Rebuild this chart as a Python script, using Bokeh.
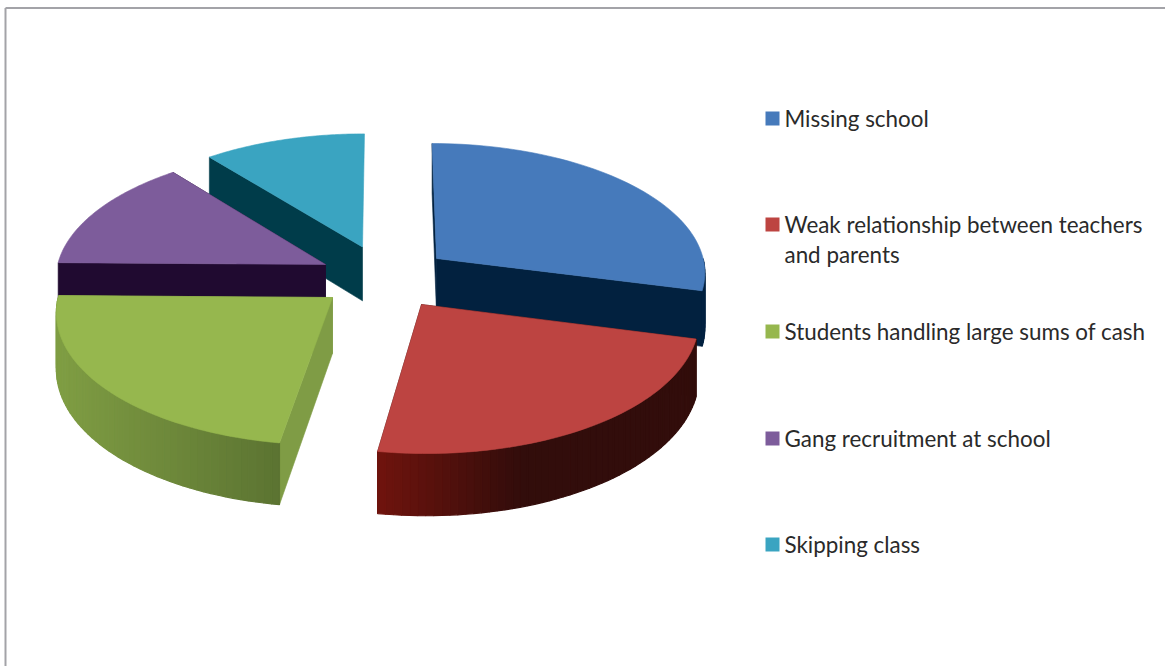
import math
from bokeh.plotting import figure
from bokeh.embed import file_html
from bokeh.resources import INLINE
from bokeh.core.properties import value

# --- data (share of responses, %) ---
categories = ["Missing school", "Weak relationship between teachers\nand parents",
              "Students handling large sums of cash", "Gang recruitment at school", "Skipping class"]
values = [29, 23.5, 22.7, 14, 10.8]

# --- style / layout ---
top_colors = ["#467ABB", "#BD4441", "#96B74E", "#7D5C9B", "#3AA4C1"]
wall_colors = ["#02213F", "#3A0E0C", "#7F9C45", "#200A30", "#003C4A"]
rim_left = [(2, 33, 64), (112, 20, 14), (128, 158, 68), (32, 10, 48), (0, 60, 74)]
rim_right = [(2, 33, 64), (50, 13, 11), (92, 116, 50), (32, 10, 48), (0, 60, 74)]
show_end_wall = [True, True, True, True, False]
start_angle = 0.1
tips = [(436, 258), (421, 304), (332, 297), (325, 264), (362, 246.5)]
draw_order = [4, 3, 2, 0, 1]
CX, CY, RX, RY, K, DEPTH = 380, 275, 270, 129, 0.095, 55
legend_y = [118, 224, 331, 438, 544]
legend_x, legend_size, text_x, line_gap = 772, 14, 784, 30
W, H = 1165, 666


def proj(X, Y, z=0.0):
    w = 1 / (1 - K * Y)
    return CX + RX * X * w, CY + RY * Y * w + z * w


def unproj(sx, sy):
    dy = sy - CY
    Y = dy / (RY + K * dy)
    w = 1 / (1 - K * Y)
    return (sx - CX) / (RX * w), Y


p = figure(width=W, height=H, x_range=(0, W), y_range=(H, 0), output_backend="svg",
           toolbar_location=None, min_border=0, outline_line_color=None,
           background_fill_color="white", border_fill_color="white")
p.axis.visible = False
p.grid.visible = False

# frame of the original picture
p.segment([5, 5], [7.5, 7.5], [W, 5], [7.5, H], line_color="#A3A3A8", line_width=2)

xs, ys, cols, lws = [], [], [], []


def add(px, py, c, lw=0.6):
    xs.append(px)
    ys.append(py)
    cols.append(c)
    lws.append(lw)


total = sum(values)
starts = []
a = start_angle
for v in values:
    starts.append(a)
    a += v / total * 360

for i in draw_order:
    a0 = math.radians(starts[i])
    a1 = a0 + math.radians(values[i] / total * 360)
    X0, Y0 = unproj(*tips[i])
    pt = lambda t, z=0.0: proj(X0 + math.sin(t), Y0 - math.cos(t), z)
    tip_top = proj(X0, Y0)
    tip_bot = proj(X0, Y0, DEPTH)
    # cut walls
    for t in ((a1, a0) if show_end_wall[i] else (a0,)):
        e_t, e_b = pt(t), pt(t, DEPTH)
        add([tip_top[0], e_t[0], e_b[0], tip_bot[0]], [tip_top[1], e_t[1], e_b[1], tip_bot[1]], wall_colors[i])
    # outer rim, only the part that faces the viewer
    lo, hi = max(a0, math.pi / 2), min(a1, 3 * math.pi / 2)
    if hi > lo:
        n = max(2, int(math.degrees(hi - lo) / 1.5))
        ang = [lo + (hi - lo) * j / n for j in range(n + 1)]
        px = [pt(t)[0] for t in ang]
        xmin, xmax = min(px), max(px)
        for j in range(n):
            f = ((px[j] + px[j + 1]) / 2 - xmin) / (xmax - xmin)
            if i == 1:
                f = min(1.0, f / 0.45)
            c = tuple(int(rim_left[i][q] + (rim_right[i][q] - rim_left[i][q]) * f) for q in range(3))
            q1, q2, q3, q4 = pt(ang[j]), pt(ang[j + 1]), pt(ang[j + 1], DEPTH), pt(ang[j], DEPTH)
            add([q1[0], q2[0], q3[0], q4[0]], [q1[1], q2[1], q3[1], q4[1]], "#%02X%02X%02X" % c, 1.2)
    # top face
    ang = [a0 + (a1 - a0) * j / 60 for j in range(61)]
    add([tip_top[0]] + [pt(t)[0] for t in ang], [tip_top[1]] + [pt(t)[1] for t in ang], top_colors[i])

p.patches("xs", "ys", fill_color="c", line_color="c", line_width="lw",
          source=dict(xs=xs, ys=ys, c=cols, lw=lws))

# legend
p.scatter([legend_x] * 5, legend_y, marker="square", size=legend_size, fill_color=top_colors, line_color=None)
tx, ty, tt = [], [], []
for yy, label in zip(legend_y, categories):
    for n, part in enumerate(label.split("\n")):
        tx.append(text_x)
        ty.append(yy + n * line_gap)
        tt.append(part)
p.text(tx, ty, text=tt, text_font=value("Lato"), text_font_size="22.4px", text_color="#2A2A2A",
       text_align="left", text_baseline="middle")

open("out.html", "w").write(file_html(p, INLINE))
